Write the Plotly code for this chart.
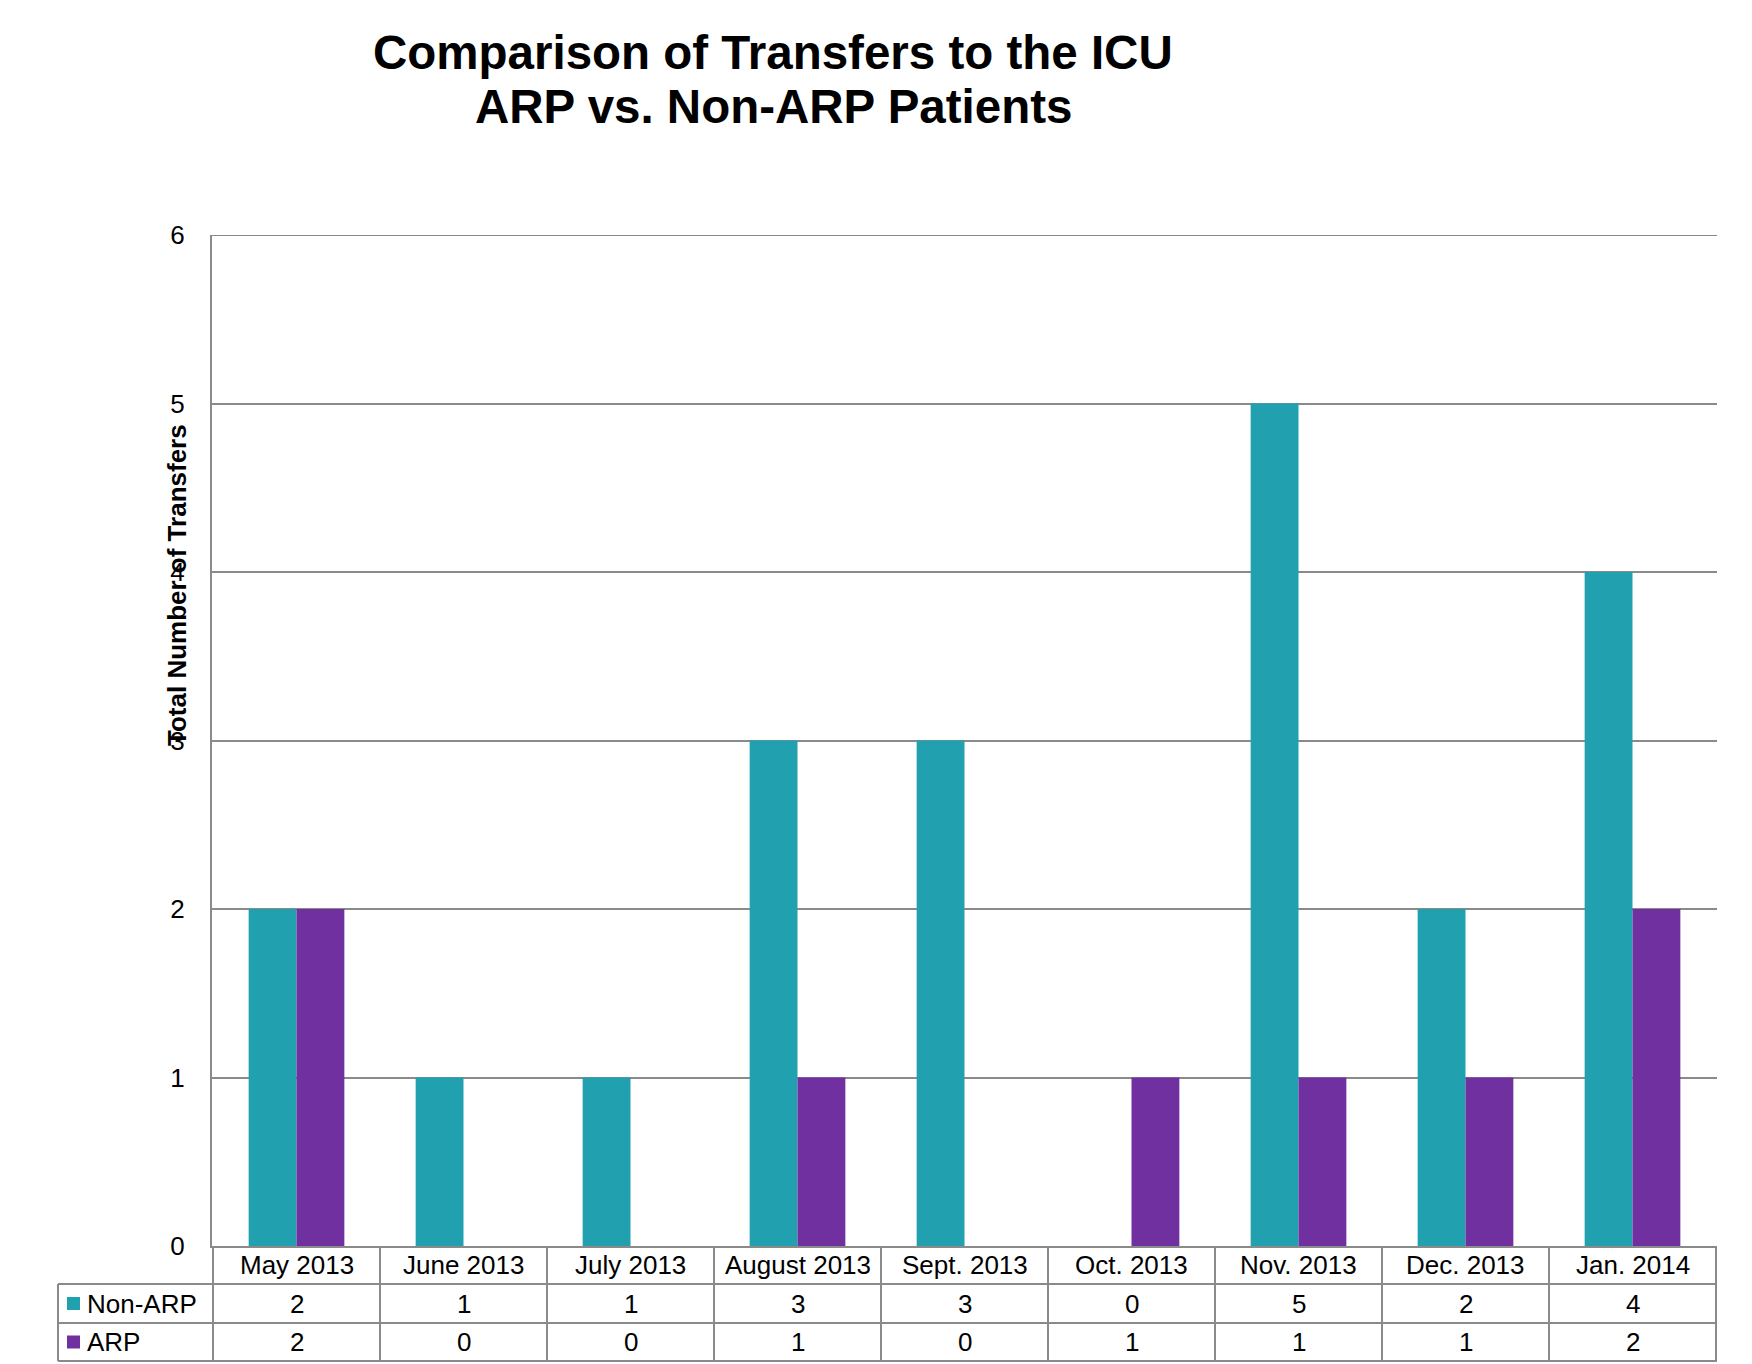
import plotly.graph_objects as go

categories = ["May 2013", "June 2013", "July 2013", "August 2013", "Sept. 2013",
              "Oct. 2013", "Nov. 2013", "Dec. 2013", "Jan. 2014"]
non_arp = [2, 1, 1, 3, 3, 0, 5, 2, 4]
arp = [2, 0, 0, 1, 0, 1, 1, 1, 2]
series_names = ["Non-ARP", "ARP"]
y_ticks = [0, 1, 2, 3, 4, 5, 6]

TEAL = "#21A1B0"
PURPLE = "#7030A0"
GRID = "#8A8A8A"
FONT = "Liberation Sans, Arial, sans-serif"

W, H = 1752, 1364
L, R, T, B = 212, 1717, 235, 1246
pw, ph = R - L, B - T

def px(x):
    return (x - L) / pw

def py(y):
    return (B - y) / ph

fig = go.Figure()
fig.add_trace(go.Bar(x=categories, y=non_arp, name=series_names[0],
                     marker=dict(color=TEAL, line=dict(width=0))))
fig.add_trace(go.Bar(x=categories, y=arp, name=series_names[1],
                     marker=dict(color=PURPLE, line=dict(width=0))))

shapes = []
# top gridline at the maximum tick
shapes.append(dict(type="line", xref="paper", yref="y", layer="below",
                   x0=0, x1=1, y0=y_ticks[-1], y1=y_ticks[-1],
                   line=dict(color=GRID, width=2)))

row_y = [1246, 1284, 1323, 1361]
tbl_left = 58
for yy in row_y[1:]:
    shapes.append(dict(type="line", xref="paper", yref="paper",
                       x0=px(tbl_left), x1=px(R), y0=py(yy), y1=py(yy),
                       line=dict(color=GRID, width=2)))
n = len(categories)
for i in range(n + 1):
    shapes.append(dict(type="line", xref="x", yref="paper",
                       x0=i - 0.5, x1=i - 0.5, y0=0, y1=py(row_y[-1]),
                       line=dict(color=GRID, width=2)))
shapes.append(dict(type="line", xref="paper", yref="paper",
                   x0=px(tbl_left), x1=px(tbl_left), y0=py(row_y[1]), y1=py(row_y[-1]),
                   line=dict(color=GRID, width=2)))

annotations = []
# category header row
for c in categories:
    annotations.append(dict(x=c, xref="x", y=py((row_y[0] + row_y[1]) / 2), yref="paper",
                            text=c, showarrow=False,
                            font=dict(size=26, color="black", family=FONT),
                            xanchor="center", yanchor="middle"))

row_centers = [(row_y[1] + row_y[2]) / 2, (row_y[2] + row_y[3]) / 2]
for vals, yc, name, col in zip([non_arp, arp], row_centers, series_names, [TEAL, PURPLE]):
    for c, v in zip(categories, vals):
        annotations.append(dict(x=c, xref="x", y=py(yc), yref="paper",
                                text=str(v), showarrow=False,
                                font=dict(size=26, color="black", family=FONT),
                                xanchor="center", yanchor="middle"))
    annotations.append(dict(x=px(85), xref="paper", y=py(yc), yref="paper",
                            text=name, showarrow=False,
                            font=dict(size=26, color="black", family=FONT),
                            xanchor="left", yanchor="middle"))
    shapes.append(dict(type="rect", xref="paper", yref="paper",
                       x0=px(67), x1=px(80), y0=py(yc + 6.5), y1=py(yc - 6.5),
                       fillcolor=col, line=dict(width=0)))

annotations.append(dict(x=px(773), xref="paper", y=py(52), yref="paper",
                        text="<b>Comparison of Transfers to the ICU</b>", showarrow=False,
                        font=dict(size=47.5, color="black", family=FONT),
                        xanchor="center", yanchor="middle"))
annotations.append(dict(x=px(773), xref="paper", y=py(107), yref="paper",
                        text="<b>ARP vs. Non-ARP Patients</b>", showarrow=False,
                        font=dict(size=47.5, color="black", family=FONT),
                        xanchor="center", yanchor="middle"))
annotations.append(dict(x=px(177), xref="paper", y=py(585), yref="paper",
                        text="<b>Total Number of Transfers</b>", showarrow=False,
                        textangle=-90,
                        font=dict(size=26, color="black", family=FONT),
                        xanchor="center", yanchor="middle"))

fig.update_layout(
    width=W, height=H,
    margin=dict(l=L, r=W - R, t=T, b=H - B, pad=0),
    paper_bgcolor="white", plot_bgcolor="white",
    barmode="group", bargap=0.427, bargroupgap=0,
    showlegend=False,
    font=dict(family=FONT, size=26, color="black"),
    shapes=shapes, annotations=annotations,
)
fig.update_xaxes(type="category", showgrid=False, showline=True,
                 linecolor=GRID, linewidth=2, ticks="", showticklabels=False)
fig.update_yaxes(range=[0, 6], tickvals=y_ticks, showgrid=True,
                 gridcolor=GRID, gridwidth=2, showline=True,
                 linecolor=GRID, linewidth=2, ticks="", zeroline=False,
                 tickfont=dict(size=26, color="black", family=FONT),
                 ticklabelstandoff=20)

fig.write_html("out.html")
